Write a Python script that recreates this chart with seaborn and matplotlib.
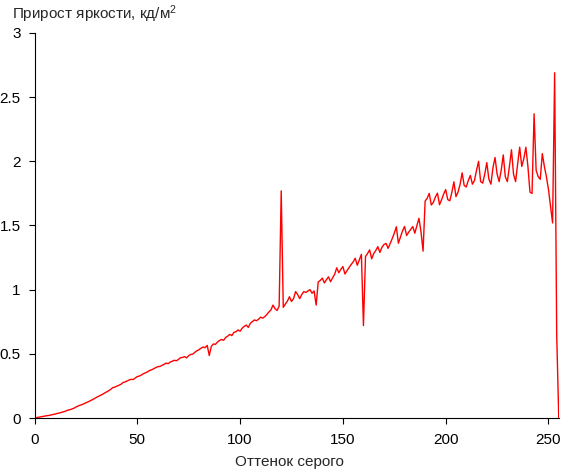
import numpy as np
import pandas as pd
import matplotlib
matplotlib.use("Agg")
import matplotlib.pyplot as plt
import seaborn as sns

# Brightness increment per gray level
gray = list(range(256))
increment = [
    0.000, 0.003, 0.006, 0.009, 0.012, 0.015, 0.018, 0.020, 0.024, 0.027,
    0.031, 0.035, 0.039, 0.043, 0.048, 0.053, 0.060, 0.064, 0.069, 0.075,
    0.084, 0.092, 0.099, 0.104, 0.111, 0.118, 0.126, 0.133, 0.142, 0.150,
    0.160, 0.168, 0.176, 0.184, 0.194, 0.203, 0.212, 0.222, 0.236, 0.240,
    0.248, 0.255, 0.262, 0.276, 0.281, 0.288, 0.296, 0.301, 0.300, 0.312,
    0.323, 0.327, 0.335, 0.346, 0.352, 0.360, 0.371, 0.376, 0.384, 0.393,
    0.400, 0.402, 0.410, 0.418, 0.428, 0.423, 0.436, 0.442, 0.450, 0.446,
    0.456, 0.470, 0.472, 0.478, 0.469, 0.486, 0.495, 0.498, 0.512, 0.524,
    0.532, 0.544, 0.553, 0.548, 0.566, 0.487, 0.558, 0.577, 0.574, 0.592,
    0.604, 0.612, 0.606, 0.628, 0.638, 0.652, 0.642, 0.668, 0.672, 0.686,
    0.676, 0.700, 0.714, 0.724, 0.706, 0.738, 0.752, 0.764, 0.758, 0.770,
    0.786, 0.778, 0.790, 0.806, 0.826, 0.842, 0.880, 0.852, 0.838, 0.872,
    1.770, 0.862, 0.888, 0.910, 0.945, 0.908, 0.930, 0.985, 0.962, 0.930,
    0.962, 0.985, 0.978, 0.990, 1.000, 0.972, 0.990, 0.880, 1.060, 1.072,
    1.090, 1.052, 1.078, 1.100, 1.062, 1.092, 1.120, 1.170, 1.132, 1.158,
    1.180, 1.122, 1.148, 1.172, 1.196, 1.216, 1.245, 1.190, 1.232, 1.275,
    0.720, 1.258, 1.282, 1.310, 1.240, 1.282, 1.305, 1.335, 1.290, 1.330,
    1.352, 1.360, 1.322, 1.360, 1.398, 1.440, 1.490, 1.362, 1.410, 1.458,
    1.492, 1.422, 1.448, 1.470, 1.492, 1.440, 1.500, 1.556, 1.450, 1.300,
    1.690, 1.712, 1.750, 1.660, 1.680, 1.722, 1.752, 1.662, 1.700, 1.745,
    1.780, 1.702, 1.692, 1.758, 1.840, 1.725, 1.760, 1.820, 1.910, 1.812,
    1.800, 1.850, 1.890, 1.822, 1.850, 1.930, 2.000, 1.842, 1.830, 1.900,
    1.990, 1.862, 1.822, 1.950, 2.030, 1.902, 1.842, 1.930, 2.050, 1.880,
    1.842, 1.960, 2.090, 1.900, 1.842, 1.980, 2.110, 1.960, 2.020, 2.110,
    1.960, 1.760, 1.750, 2.370, 1.930, 1.880, 1.860, 2.060, 1.960, 1.880,
    1.780, 1.650, 1.520, 2.690, 0.650, 0.000,
]

x_ticks = [0, 50, 100, 150, 200, 250]
y_ticks = [0, 0.5, 1, 1.5, 2, 2.5, 3]
y_tick_labels = ["0", "0.5", "1", "1.5", "2", "2.5", "3"]

df = pd.DataFrame({"gray": gray, "inc": increment})

sns.set_style("ticks")
plt.rcParams["font.family"] = ["Liberation Sans", "DejaVu Sans"]
plt.rcParams["mathtext.fontset"] = "custom"
plt.rcParams["mathtext.rm"] = "Liberation Sans"
plt.rcParams["mathtext.default"] = "regular"

fig = plt.figure(figsize=(5.61, 4.71), dpi=100)
ax = fig.add_axes([0.0615, 0.1125, 0.9345, 0.8175])

sns.lineplot(data=df, x="gray", y="inc", color="red", linewidth=1.0, ax=ax)

ax.set_xlim(0, 255)
ax.set_ylim(0, 3)
ax.set_xticks(x_ticks)
ax.set_xticklabels([str(t) for t in x_ticks])
ax.set_yticks(y_ticks)
ax.set_yticklabels(y_tick_labels)
ax.tick_params(axis="both", labelsize=11, length=4, width=0.8,
               color="black", labelcolor="black", direction="out")
ax.tick_params(axis="x", pad=7)
ax.tick_params(axis="y", pad=6)
for s in ["left", "bottom"]:
    ax.spines[s].set_color("black")
    ax.spines[s].set_linewidth(0.8)
sns.despine(ax=ax)

ax.set_xlabel("Оттенок серого", fontsize=11)
ax.xaxis.set_label_coords(0.487, -0.095)
ax.set_ylabel("")
fig.text(12 / 561, 1 - 3 / 471, "Прирост яркости, кд/м$^2$", fontsize=11,
         ha="left", va="top")

fig.savefig("out.png", dpi=100)
